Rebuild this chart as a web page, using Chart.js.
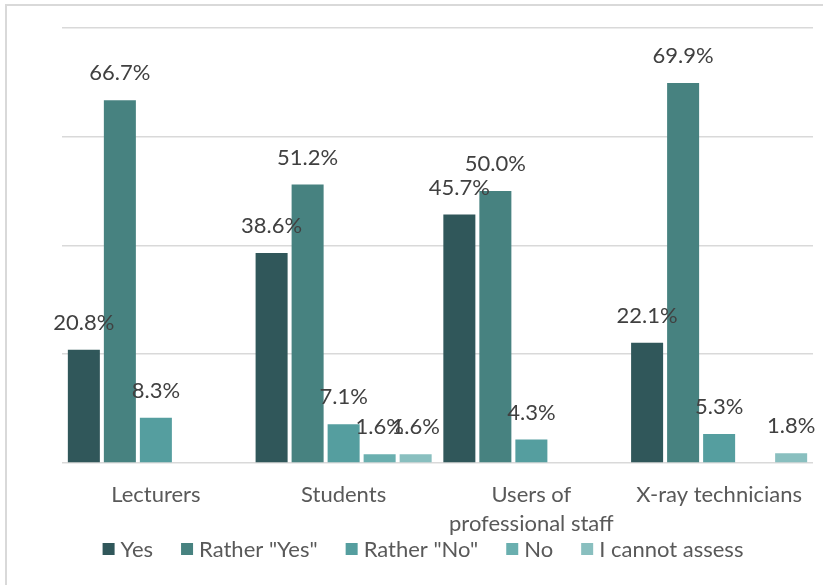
<!DOCTYPE html>
<html>
<head>
<meta charset="utf-8">
<title>Survey responses</title>
<script src="https://cdn.jsdelivr.net/npm/chart.js@4"></script>
<style>
  html, body { margin: 0; padding: 0; background: #fff; overflow: hidden; }
  #wrap { position: relative; width: 830px; height: 585px; }
  #frame {
    position: absolute; left: 5px; top: 4px; width: 816px; height: 600px;
    border-top: 2px solid #D9D9D9; border-left: 2px solid #D9D9D9;
  }
  #chart { position: absolute; left: 0; top: 0; }
</style>
</head>
<body>
<div id="wrap">
  <div id="frame"></div>
  <canvas id="chart" width="830" height="585"></canvas>
</div>
<script>
// Categories and answers
const categories = ['Lecturers', 'Students', ['Users of', 'professional staff'], 'X-ray technicians'];
const seriesNames = ['Yes', 'Rather "Yes"', 'Rather "No"', 'No', 'I cannot assess'];
const seriesColors = ['#30575A', '#478280', '#559E9F', '#6AAFAF', '#89BFBF'];

// Share of answers, % (null = no bar)
const yesValues = [20.8, 38.6, 45.7, 22.1];
const ratherYesValues = [66.7, 51.2, 50.0, 69.9];
const ratherNoValues = [8.3, 7.1, 4.3, 5.3];
const noValues = [null, 1.6, null, null];
const cannotAssessValues = [null, 1.6, null, 1.8];

const yTicks = [0, 20, 40, 60, 80];

const FONT = 'Lato, "Open Sans", sans-serif';

const allValues = [yesValues, ratherYesValues, ratherNoValues, noValues, cannotAssessValues];

// Percent label above each bar
const valueLabels = {
  id: 'valueLabels',
  afterDatasetsDraw(chart) {
    const ctx = chart.ctx;
    ctx.save();
    ctx.font = '22px ' + FONT;
    ctx.fillStyle = '#404040';
    ctx.textAlign = 'center';
    ctx.textBaseline = 'middle';
    chart.data.datasets.forEach((ds, i) => {
      const meta = chart.getDatasetMeta(i);
      meta.data.forEach((bar, j) => {
        const v = ds.data[j];
        if (v === null || v === undefined) return;
        ctx.fillText(v.toFixed(1) + '%', bar.x, bar.y - 27);
      });
    });
    ctx.restore();
  }
};

// Legend row under the axis labels: square swatch, small gap, name
const bottomLegend = {
  id: 'bottomLegend',
  afterDraw(chart) {
    const ctx = chart.ctx;
    const box = 12, gap = 6, spacing = 28, y = 549, center = 423;
    ctx.save();
    ctx.font = '22px ' + FONT;
    ctx.textBaseline = 'middle';
    ctx.textAlign = 'left';
    const items = chart.data.datasets.map(ds => ({
      label: ds.label, color: ds.backgroundColor, w: ctx.measureText(ds.label).width
    }));
    const total = items.reduce((s, it) => s + box + gap + it.w, 0) + spacing * (items.length - 1);
    let x = center - total / 2;
    items.forEach(it => {
      ctx.fillStyle = it.color;
      ctx.fillRect(x, y - box / 2, box, box);
      ctx.fillStyle = '#595959';
      ctx.fillText(it.label, x + box + gap, y + 1);
      x += box + gap + it.w + spacing;
    });
    ctx.restore();
  }
};

new Chart(document.getElementById('chart'), {
  type: 'bar',
  data: {
    labels: categories,
    datasets: seriesNames.map((name, i) => ({
      label: name,
      data: allValues[i],
      backgroundColor: seriesColors[i],
      borderWidth: 0,
      categoryPercentage: 0.959,
      barPercentage: 0.889
    }))
  },
  options: {
    responsive: false,
    animation: false,
    layout: { padding: { left: 62, right: 17, top: 28, bottom: 38 } },
    plugins: {
      legend: { display: false },
      tooltip: { enabled: false }
    },
    scales: {
      x: {
        grid: { display: false },
        border: { display: false },
        ticks: {
          color: '#595959',
          padding: 9,
          font: { family: FONT, size: 22, lineHeight: 1.32 },
          maxRotation: 0,
          autoSkip: false
        }
      },
      y: {
        min: yTicks[0],
        max: yTicks[yTicks.length - 1],
        afterBuildTicks(axis) { axis.ticks = yTicks.map(v => ({ value: v })); },
        ticks: { display: false },
        grid: { color: '#D9D9D9', lineWidth: 1.5, drawTicks: false },
        border: { display: false }
      }
    }
  },
  plugins: [valueLabels, bottomLegend]
});
</script>
</body>
</html>
